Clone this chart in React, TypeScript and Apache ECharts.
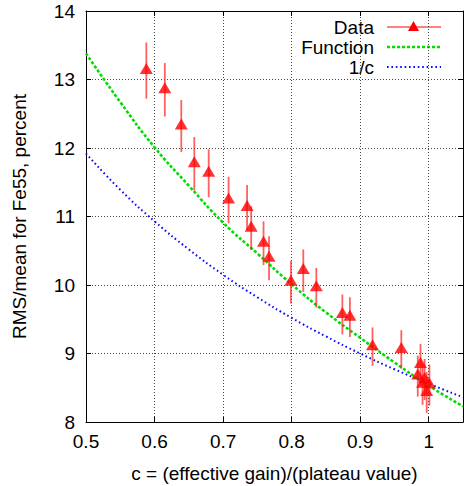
import React, { useEffect, useRef } from "react";
import * as echarts from "echarts";

// Measured data points: c = (effective gain)/(plateau value), RMS/mean (%), error
const cVals = [0.588, 0.615, 0.639, 0.658, 0.679, 0.708, 0.735, 0.741, 0.759, 0.767, 0.799, 0.817, 0.836, 0.874, 0.885, 0.918, 0.960, 0.988, 0.984, 0.994, 0.991, 1.001, 0.997];
const rmsVals = [13.13, 12.85, 12.32, 11.77, 11.63, 11.24, 11.13, 10.83, 10.61, 10.39, 10.04, 10.21, 9.96, 9.57, 9.53, 9.10, 9.06, 8.84, 8.67, 8.62, 8.55, 8.54, 8.43];
const errVals = [0.41, 0.39, 0.38, 0.39, 0.35, 0.34, 0.33, 0.32, 0.32, 0.32, 0.31, 0.31, 0.29, 0.29, 0.29, 0.28, 0.28, 0.3, 0.3, 0.3, 0.3, 0.3, 0.3];

// Curves
const curveC = [0.5, 0.55, 0.6, 0.65, 0.7, 0.75, 0.8, 0.85, 0.9, 0.95, 1.0, 1.05];
const funcVals = [13.38, 12.67, 12.01, 11.45, 10.91, 10.46, 10.01, 9.6, 9.23, 8.87, 8.53, 8.23];
const invVals = [11.92, 11.39, 10.93, 10.52, 10.15, 9.82, 9.52, 9.25, 9.0, 8.77, 8.56, 8.36];

const legendNames = ["Data", "Function", "1/c"];
const xTitle = "c = (effective gain)/(plateau value)";
const yTitle = "RMS/mean for Fe55, percent";

const FONT = "'Liberation Sans', Arial, Helvetica, sans-serif";
const RED = "#ff0000";
const GREEN = "#00dd00";
const BLUE = "#0a0aff";

export default function App() {
  const ref = useRef<HTMLDivElement>(null);
  useEffect(() => {
    if (!ref.current) return;
    const chart = echarts.init(ref.current, undefined, { renderer: "svg" });
    const points = cVals.map((c, i) => [c, rmsVals[i], errVals[i]]);
    const gridLine = { show: true, lineStyle: { color: "#444", type: [1, 2] as any, width: 1 } };
    const baseAxis = {
      type: "value" as const,
      axisLine: { show: true, onZero: false, lineStyle: { color: "#000", width: 1 } },
      axisTick: { show: true, inside: true, length: 5, lineStyle: { color: "#000" } },
    };
    const lx = 374;
    const sx1 = 387;
    const sx2 = 441;
    const rows = [27, 47, 67];
    chart.setOption({
      animation: false,
      backgroundColor: "#fff",
      grid: { left: 86, right: 1, top: 11, bottom: 64, outerBoundsMode: "none", containLabel: false },
      xAxis: [
        {
          ...baseAxis,
          position: "bottom",
          min: 0.5,
          max: 1.05,
          interval: 0.1,
          axisLabel: { fontSize: 19, color: "#000", fontFamily: FONT, margin: 10, showMaxLabel: false },
          splitLine: gridLine,
          name: xTitle,
          nameLocation: "middle",
          nameGap: 42,
          nameTextStyle: { fontSize: 19, color: "#000", fontFamily: FONT },
        },
        {
          ...baseAxis,
          position: "top",
          min: 0.5,
          max: 1.05,
          interval: 0.1,
          axisLabel: { show: false },
          splitLine: { show: false },
        },
      ],
      yAxis: [
        {
          ...baseAxis,
          position: "left",
          min: 8,
          max: 14,
          interval: 1,
          axisLabel: { fontSize: 19, color: "#000", fontFamily: FONT, margin: 11 },
          splitLine: gridLine,
          name: yTitle,
          nameLocation: "middle",
          nameGap: 57,
          nameRotate: 90,
          nameTextStyle: { fontSize: 19, color: "#000", fontFamily: FONT },
        },
        {
          ...baseAxis,
          position: "right",
          min: 8,
          max: 14,
          interval: 1,
          axisLabel: { show: false },
          splitLine: { show: false },
        },
      ],
      series: [
        {
          name: legendNames[2],
          type: "line",
          data: curveC.map((c, i) => [c, invVals[i]]),
          smooth: true,
          showSymbol: false,
          lineStyle: { color: BLUE, width: 2, type: [1.6, 2.8] },
          z: 2,
        },
        {
          name: legendNames[1],
          type: "line",
          data: curveC.map((c, i) => [c, funcVals[i]]),
          smooth: true,
          showSymbol: false,
          lineStyle: { color: GREEN, width: 2.6, type: [3, 2] },
          z: 3,
        },
        {
          name: legendNames[0] + " errors",
          type: "custom",
          data: points,
          encode: { x: 0, y: 1 },
          renderItem: (params: any, api: any) => {
            const x = api.value(0);
            const y = api.value(1);
            const e = api.value(2);
            const p1 = api.coord([x, y - e]);
            const p2 = api.coord([x, y + e]);
            return {
              type: "line",
              shape: { x1: p1[0], y1: p1[1], x2: p2[0], y2: p2[1] },
              style: { stroke: "rgba(255,30,30,0.7)", lineWidth: 1.8 },
            };
          },
          z: 4,
        },
        {
          name: legendNames[0],
          type: "scatter",
          data: points.map((p) => [p[0], p[1]]),
          symbol: "triangle",
          symbolSize: [13, 11],
          symbolOffset: [0, -2],
          itemStyle: { color: RED },
          z: 5,
        },
      ],
      graphic: [
        ...legendNames.map((n, i) => ({
          type: "text",
          x: lx,
          y: rows[i],
          style: {
            text: n,
            align: "right",
            verticalAlign: "middle",
            fontSize: 19,
            fontFamily: FONT,
            fill: "#000",
          },
        })),
        { type: "line", shape: { x1: sx1, y1: rows[0], x2: sx2, y2: rows[0] }, style: { stroke: RED, lineWidth: 1 } },
        {
          type: "polygon",
          shape: { points: [[408, 31], [419, 31], [413.5, 21]] },
          style: { fill: RED },
        },
        {
          type: "line",
          shape: { x1: sx1, y1: rows[1], x2: sx2, y2: rows[1] },
          style: { stroke: GREEN, lineWidth: 2.6, lineDash: [3, 2] },
        },
        {
          type: "line",
          shape: { x1: sx1, y1: rows[2], x2: sx2, y2: rows[2] },
          style: { stroke: BLUE, lineWidth: 2, lineDash: [1.6, 2.8] },
        },
      ],
    });
    return () => chart.dispose();
  }, []);
  return (
    <div
      ref={ref}
      style={{ position: "fixed", left: 0, top: 0, width: 464, height: 486, background: "#fff" }}
    />
  );
}
